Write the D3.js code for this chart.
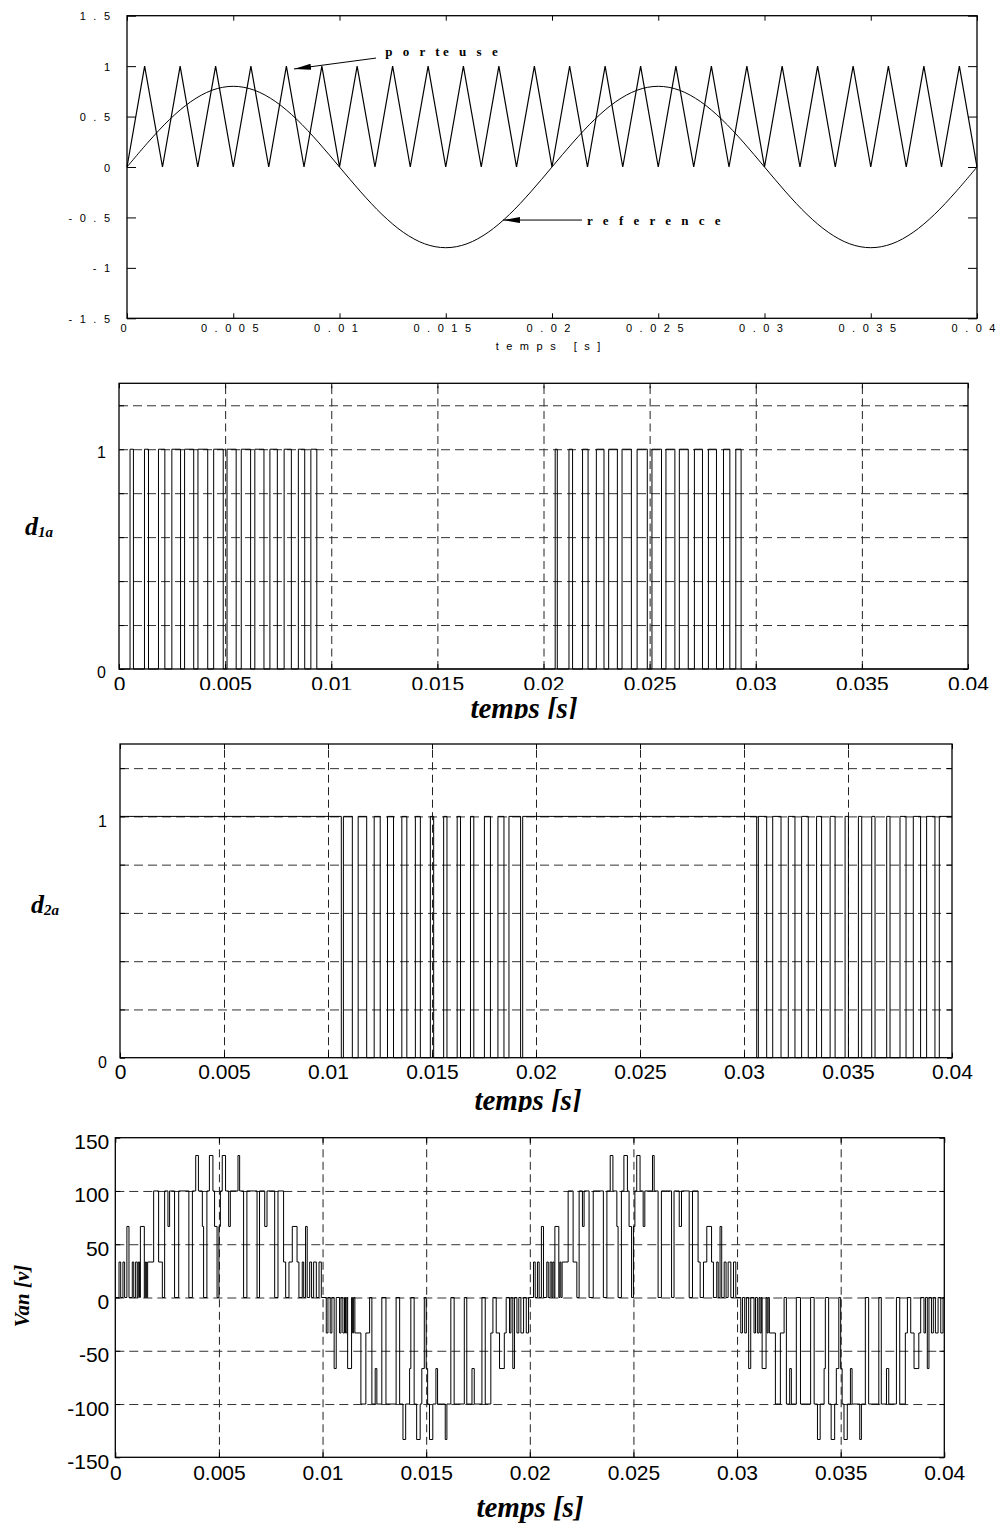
<!DOCTYPE html>
<html>
<head>
<meta charset="utf-8">
<script src="https://cdnjs.cloudflare.com/ajax/libs/d3/7.8.5/d3.min.js"></script>
<style>
  body { margin: 0; background: #fff; }
  svg { display: block; }
</style>
</head>
<body>
<svg width="998" height="1529"></svg>
<script>
const timeTicks = [0, 0.005, 0.01, 0.015, 0.02, 0.025, 0.03, 0.035, 0.04];
const timeLabels = ["0", "0.005", "0.01", "0.015", "0.02", "0.025", "0.03", "0.035", "0.04"];

const refYTicks = [-1.5, -1, -0.5, 0, 0.5, 1, 1.5];
const refYLabels = ["-1.5", "-1", "-0.5", "0", "0.5", "1", "1.5"];

const dYTicks = [0, 0.2, 0.4, 0.6, 0.8, 1, 1.2];
const dYLabels = ["0", "", "", "", "", "1", ""];

const vanYTicks = [-150, -100, -50, 0, 50, 100, 150];
const vanYLabels = ["-150", "-100", "-50", "0", "50", "100", "150"];

// triangular carrier (porteuse): vertices
const carrierT = [0, 0.00083, 0.00167, 0.0025, 0.00333, 0.00417, 0.005, 0.00583, 0.00667, 0.0075,
  0.00833, 0.00917, 0.01, 0.01083, 0.01167, 0.0125, 0.01333, 0.01417, 0.015, 0.01583,
  0.01667, 0.0175, 0.01833, 0.01917, 0.02, 0.02083, 0.02167, 0.0225, 0.02333, 0.02417,
  0.025, 0.02583, 0.02667, 0.0275, 0.02833, 0.02917, 0.03, 0.03083, 0.03167, 0.0325,
  0.03333, 0.03417, 0.035, 0.03583, 0.03667, 0.0375, 0.03833, 0.03917, 0.04];
const carrierV = [0, 1, 0, 1, 0, 1, 0, 1, 0, 1, 0, 1, 0, 1, 0, 1, 0, 1, 0, 1, 0, 1, 0, 1, 0,
  1, 0, 1, 0, 1, 0, 1, 0, 1, 0, 1, 0, 1, 0, 1, 0, 1, 0, 1, 0, 1, 0, 1, 0];

// sinusoidal reference, read every millisecond
const refT = [0, 0.001, 0.002, 0.003, 0.004, 0.005, 0.006, 0.007, 0.008, 0.009,
  0.01, 0.011, 0.012, 0.013, 0.014, 0.015, 0.016, 0.017, 0.018, 0.019,
  0.02, 0.021, 0.022, 0.023, 0.024, 0.025, 0.026, 0.027, 0.028, 0.029,
  0.03, 0.031, 0.032, 0.033, 0.034, 0.035, 0.036, 0.037, 0.038, 0.039, 0.04];
const refV = [0, 0.247, 0.47, 0.647, 0.761, 0.8, 0.761, 0.647, 0.47, 0.247,
  0, -0.247, -0.47, -0.647, -0.761, -0.8, -0.761, -0.647, -0.47, -0.247,
  0, 0.247, 0.47, 0.647, 0.761, 0.8, 0.761, 0.647, 0.47, 0.247,
  0, -0.247, -0.47, -0.647, -0.761, -0.8, -0.761, -0.647, -0.47, -0.247, 0];

// switching edges of d1a (starts at 0) and d2a (starts at 1)
const d1aStart = 0;
const d1aEdges = [0.00052, 0.00068, 0.0012, 0.00139, 0.00186, 0.00216, 0.00249, 0.0029,
  0.00309, 0.00352, 0.00372, 0.00418, 0.00446, 0.00491, 0.00509, 0.00552, 0.00576, 0.0062,
  0.0064, 0.00683, 0.00711, 0.00746, 0.00778, 0.00812, 0.00845, 0.00875, 0.00904, 0.00932,
  0.02055, 0.02065, 0.0212, 0.02137, 0.02184, 0.0221, 0.02249, 0.02285, 0.02307, 0.02348,
  0.0237, 0.02414, 0.02441, 0.02489, 0.02511, 0.02556, 0.02577, 0.02619, 0.0264, 0.02682,
  0.02711, 0.02749, 0.02777, 0.02815, 0.02848, 0.02878, 0.02906, 0.02931];

const d2aStart = 1;
const d2aEdges = [0.01064, 0.01074, 0.01117, 0.01145, 0.01186, 0.01222, 0.01251, 0.01286,
  0.01315, 0.01355, 0.01379, 0.0142, 0.01444, 0.01492, 0.01508, 0.01556, 0.01572, 0.01621,
  0.01637, 0.01685, 0.01701, 0.01752, 0.01781, 0.01817, 0.01846, 0.0187, 0.01926, 0.01936,
  0.03061, 0.03069, 0.03109, 0.03138, 0.03178, 0.03213, 0.03245, 0.03277, 0.03309, 0.03349,
  0.03373, 0.03414, 0.03438, 0.03486, 0.03502, 0.0355, 0.03566, 0.03614, 0.0363, 0.03686,
  0.03702, 0.0375, 0.03779, 0.03814, 0.03849, 0.03878, 0.03918, 0.03939];

// Van [v]: [time, level] steps, one list per half period
const vanHalf1 = [[0, 0], [0.00018, 33.3], [0.00026, 0], [0.00037, 33.3], [0.00045, 0],
  [0.00056, 66.7], [0.00066, 0], [0.00082, 33.3], [0.00089, 0], [0.00098, 33.3], [0.00106, 0],
  [0.00111, 33.3], [0.00117, 0], [0.00121, 66.7], [0.0014, 0], [0.00145, 33.3], [0.0015, 0],
  [0.00156, 33.3], [0.00185, 100], [0.00209, 33.3], [0.00227, 0], [0.00238, 100], [0.00254, 66.7],
  [0.00262, 100], [0.00286, 0], [0.00306, 100], [0.00355, 0], [0.00372, 100], [0.00388, 133.3],
  [0.00401, 100], [0.0042, 66.7], [0.00426, 0], [0.00442, 100], [0.00454, 133.3], [0.00471, 100],
  [0.00479, 66.7], [0.00491, 0], [0.005, 66.7], [0.00507, 100], [0.00516, 133.3], [0.00532, 100],
  [0.00547, 66.7], [0.00555, 100], [0.00592, 133.3], [0.006, 100], [0.00619, 0], [0.00635, 100],
  [0.00684, 0], [0.00696, 100], [0.00721, 66.7], [0.00732, 100], [0.00769, 0], [0.00785, 100],
  [0.00812, 33.3], [0.00822, 0], [0.00838, 33.3], [0.00854, 66.7], [0.00877, 33.3], [0.00886, 0],
  [0.00902, 33.3], [0.00909, 0], [0.00918, 66.7], [0.00926, 0], [0.00938, 33.3], [0.00947, 0],
  [0.00957, 33.3], [0.0097, 0], [0.00983, 33.3], [0.00994, 0]];

const vanHalf2 = [[0.01018, -33.3], [0.01026, 0], [0.01037, -33.3], [0.01045, 0],
  [0.01056, -66.7], [0.01066, 0], [0.01082, -33.3], [0.01089, 0], [0.01098, -33.3], [0.01106, 0],
  [0.01111, -33.3], [0.01117, 0], [0.01121, -66.7], [0.0114, 0], [0.01145, -33.3], [0.0115, 0],
  [0.01156, -33.3], [0.01185, -100], [0.01209, -33.3], [0.01227, 0], [0.01238, -100], [0.01254, -66.7],
  [0.01262, -100], [0.01286, 0], [0.01306, -100], [0.01355, 0], [0.01372, -100], [0.01388, -133.3],
  [0.01401, -100], [0.0142, -66.7], [0.01426, 0], [0.01442, -100], [0.01454, -133.3], [0.01471, -100],
  [0.01479, -66.7], [0.01491, 0], [0.015, -66.7], [0.01507, -100], [0.01516, -133.3], [0.01532, -100],
  [0.01547, -66.7], [0.01555, -100], [0.01592, -133.3], [0.016, -100], [0.01619, 0], [0.01635, -100],
  [0.01684, 0], [0.01696, -100], [0.01721, -66.7], [0.01732, -100], [0.01769, 0], [0.01785, -100],
  [0.01812, -33.3], [0.01822, 0], [0.01838, -33.3], [0.01854, -66.7], [0.01877, -33.3], [0.01886, 0],
  [0.01902, -33.3], [0.01909, 0], [0.01918, -66.7], [0.01926, 0], [0.01938, -33.3], [0.01947, 0],
  [0.01957, -33.3], [0.0197, 0], [0.01983, -33.3], [0.01994, 0]];

const vanHalf3 = [[0.02, 0], [0.02018, 33.3], [0.02026, 0], [0.02037, 33.3], [0.02045, 0],
  [0.02056, 66.7], [0.02066, 0], [0.02082, 33.3], [0.02089, 0], [0.02098, 33.3], [0.02106, 0],
  [0.02111, 33.3], [0.02117, 0], [0.02121, 66.7], [0.0214, 0], [0.02145, 33.3], [0.0215, 0],
  [0.02156, 33.3], [0.02185, 100], [0.02209, 33.3], [0.02227, 0], [0.02238, 100], [0.02254, 66.7],
  [0.02262, 100], [0.02286, 0], [0.02306, 100], [0.02355, 0], [0.02372, 100], [0.02388, 133.3],
  [0.02401, 100], [0.0242, 66.7], [0.02426, 0], [0.02442, 100], [0.02454, 133.3], [0.02471, 100],
  [0.02479, 66.7], [0.02491, 0], [0.025, 66.7], [0.02507, 100], [0.02516, 133.3], [0.02532, 100],
  [0.02547, 66.7], [0.02555, 100], [0.02592, 133.3], [0.026, 100], [0.02619, 0], [0.02635, 100],
  [0.02684, 0], [0.02696, 100], [0.02721, 66.7], [0.02732, 100], [0.02769, 0], [0.02785, 100],
  [0.02812, 33.3], [0.02822, 0], [0.02838, 33.3], [0.02854, 66.7], [0.02877, 33.3], [0.02886, 0],
  [0.02902, 33.3], [0.02909, 0], [0.02918, 66.7], [0.02926, 0], [0.02938, 33.3], [0.02947, 0],
  [0.02957, 33.3], [0.0297, 0], [0.02983, 33.3], [0.02994, 0]];

const vanHalf4 = [[0.03018, -33.3], [0.03026, 0], [0.03037, -33.3], [0.03045, 0],
  [0.03056, -66.7], [0.03066, 0], [0.03082, -33.3], [0.03089, 0], [0.03098, -33.3], [0.03106, 0],
  [0.03111, -33.3], [0.03117, 0], [0.03121, -66.7], [0.0314, 0], [0.03145, -33.3], [0.0315, 0],
  [0.03156, -33.3], [0.03185, -100], [0.03209, -33.3], [0.03227, 0], [0.03238, -100], [0.03254, -66.7],
  [0.03262, -100], [0.03286, 0], [0.03306, -100], [0.03355, 0], [0.03372, -100], [0.03388, -133.3],
  [0.03401, -100], [0.0342, -66.7], [0.03426, 0], [0.03442, -100], [0.03454, -133.3], [0.03471, -100],
  [0.03479, -66.7], [0.03491, 0], [0.035, -66.7], [0.03507, -100], [0.03516, -133.3], [0.03532, -100],
  [0.03547, -66.7], [0.03555, -100], [0.03592, -133.3], [0.036, -100], [0.03619, 0], [0.03635, -100],
  [0.03684, 0], [0.03696, -100], [0.03721, -66.7], [0.03732, -100], [0.03769, 0], [0.03785, -100],
  [0.03812, -33.3], [0.03822, 0], [0.03838, -33.3], [0.03854, -66.7], [0.03877, -33.3], [0.03886, 0],
  [0.03902, -33.3], [0.03909, 0], [0.03918, -66.7], [0.03926, 0], [0.03938, -33.3], [0.03947, 0],
  [0.03957, -33.3], [0.0397, 0], [0.03983, -33.3], [0.03994, 0], [0.04, 0]];

// annotations of the top plot, in data units [t, value]
const notes = [
  { text: "p o r te u s e", tip: [0.00786, 0.972], tail: [0.01172, 1.08], at: [0.01215, 1.1] },
  { text: "r e f e r e n c e", tip: [0.01769, -0.526], tail: [0.02141, -0.526], at: [0.02165, -0.575] },
];

const SANS = "'Liberation Sans', Arial, Helvetica, sans-serif";
const SERIF = "'Liberation Serif', 'Times New Roman', serif";

const svg = d3.select("svg");
const defs = svg.append("defs");

defs.append("marker")
  .attr("id", "arrow")
  .attr("viewBox", "0 0 17 6")
  .attr("refX", 17)
  .attr("refY", 3)
  .attr("markerWidth", 17)
  .attr("markerHeight", 6)
  .attr("markerUnits", "userSpaceOnUse")
  .attr("orient", "auto")
  .append("path")
  .attr("d", "M0,0L17,3L0,6Z")
  .attr("fill", "#000");

const addClip = (id, yMax) => {
  defs.append("clipPath").attr("id", id)
    .append("rect").attr("x", 0).attr("y", 0).attr("width", 998).attr("height", yMax);
  return `url(#${id})`;
};

// spread characters apart without a trailing gap
const spread = (sel, gap) => sel.attr("dx", function () {
  return Array.from(this.textContent, (c, i) => (i ? gap : 0)).join(" ");
});

const toSteps = (start, edges) => {
  const pts = [[0, start]];
  let level = start;
  edges.forEach((t) => {
    level = 1 - level;
    pts.push([t, level]);
  });
  pts.push([0.04, level]);
  return pts;
};

const drawGrid = (g, x, y, o) => {
  const [x0, x1] = x.range();
  const [y0, y1] = y.range();

  g.append("g")
    .attr("transform", `translate(0,${y0})`)
    .call(d3.axisBottom(x).tickValues(o.xTicks.slice(1, -1)).tickSize(-(y0 - y1)).tickFormat(""))
    .call((a) => a.select(".domain").remove())
    .selectAll("line")
    .attr("stroke", "#222")
    .attr("stroke-dasharray", "8,4.5");
  g.append("g")
    .attr("transform", `translate(${x0},0)`)
    .call(d3.axisLeft(y).tickValues(o.yGrid).tickSize(-(x1 - x0)).tickFormat(""))
    .call((a) => a.select(".domain").remove())
    .selectAll("line")
    .attr("stroke", "#333")
    .attr("stroke-dasharray", "9,5");
};

const drawFrame = (g, x, y, o) => {
  const [x0, x1] = x.range();
  const [y0, y1] = y.range();

  const bottomWrap = g.append("g");
  if (o.clip) bottomWrap.attr("clip-path", o.clip);
  const bottom = bottomWrap.append("g")
    .attr("transform", `translate(0,${y0})`)
    .call(d3.axisBottom(x).tickValues(o.xTicks).tickSizeInner(-o.xTickLen).tickSizeOuter(0)
      .tickFormat((d, i) => o.xLabels[i]));
  bottom.attr("font-family", SANS).attr("font-size", o.xFont);
  bottom.selectAll("text")
    .attr("x", o.xLabelX || 0)
    .attr("y", o.xLabelBase)
    .attr("dy", 0);

  const top = g.append("g")
    .attr("transform", `translate(0,${y1})`)
    .call(d3.axisTop(x).tickValues(o.xTicks).tickSizeInner(-o.xTickLen).tickSizeOuter(0).tickFormat(""));

  const left = g.append("g")
    .attr("transform", `translate(${x0},0)`)
    .call(d3.axisLeft(y).tickValues(o.yTicks).tickSizeInner(-o.yTickLen).tickSizeOuter(0)
      .tickFormat((d, i) => o.yLabels[i]));
  left.attr("font-family", SANS).attr("font-size", o.yFont);
  left.selectAll("text")
    .attr("x", o.yLabelX)
    .attr("dy", o.yLabelDy);

  if (o.spacing) {
    spread(bottom.selectAll("text"), o.spacing);
    spread(left.selectAll("text"), o.spacing);
  }

  const right = g.append("g")
    .attr("transform", `translate(${x1},0)`)
    .call(d3.axisRight(y).tickValues(o.yTicks).tickSizeInner(-o.yTickLen).tickSizeOuter(0).tickFormat(""));

  [bottom, top, left, right].forEach((a) => {
    a.select(".domain").remove();
    a.selectAll("line").attr("stroke", "#000").attr("stroke-width", 1);
  });

  g.append("rect")
    .attr("x", x0)
    .attr("y", y1)
    .attr("width", x1 - x0)
    .attr("height", y0 - y1)
    .attr("fill", "none")
    .attr("stroke", "#000")
    .attr("stroke-width", 1.3);
};

const drawTrace = (g, x, y, pts, curve, width = 1) => {
  g.append("path")
    .datum(pts)
    .attr("d", d3.line().x((d) => x(d[0])).y((d) => y(d[1])).curve(curve))
    .attr("fill", "none")
    .attr("stroke", "#000")
    .attr("stroke-width", width);
};

const timeTitle = (g, xPos, base, clip) => {
  const t = g.append("text")
    .attr("x", xPos)
    .attr("y", base)
    .attr("text-anchor", "middle")
    .attr("font-family", SERIF)
    .attr("font-weight", "bold")
    .attr("font-style", "italic")
    .attr("font-size", 29)
    .text("temps [s]");
  if (clip) t.attr("clip-path", clip);
};

const dLabel = (g, xPos, base, sub) => {
  const t = g.append("text")
    .attr("x", xPos)
    .attr("y", base)
    .attr("font-family", SERIF)
    .attr("font-weight", "bold")
    .attr("font-style", "italic")
    .attr("font-size", 26);
  t.append("tspan").text("d");
  t.append("tspan").attr("font-size", 15).attr("dy", 2).text(sub);
};

// ---------- panel 1 : carrier and reference ----------
{
  const g = svg.append("g");
  const x = d3.scaleLinear().domain([0, 0.04]).range([127, 977]);
  const y = d3.scaleLinear().domain([-1.5, 1.5]).range([318.3, 15.7]);

  drawTrace(g, x, y, carrierT.map((t, i) => [t, carrierV[i]]), d3.curveLinear, 1.2);
  drawTrace(g, x, y, refT.map((t, i) => [t, refV[i]]), d3.curveCardinal);

  drawFrame(g, x, y, {
    xTicks: timeTicks, xLabels: timeLabels, yTicks: refYTicks, yLabels: refYLabels,
    xTickLen: 5, yTickLen: 9, xFont: 11, yFont: 11, spacing: 7.5,
    xLabelX: -4, xLabelBase: 14, yLabelX: -17, yLabelDy: 4,
  });

  spread(g.append("text")
    .attr("x", x(0.02) - 4)
    .attr("y", 350)
    .attr("text-anchor", "middle")
    .attr("font-family", SANS)
    .attr("font-size", 11)
    .attr("xml:space", "preserve")
    .text("temps [s]"), 7.5);

  notes.forEach((n) => {
    g.append("line")
      .attr("x1", x(n.tail[0])).attr("y1", y(n.tail[1]))
      .attr("x2", x(n.tip[0])).attr("y2", y(n.tip[1]))
      .attr("stroke", "#000")
      .attr("stroke-width", 1)
      .attr("marker-end", "url(#arrow)");
    spread(g.append("text")
      .attr("x", x(n.at[0]))
      .attr("y", y(n.at[1]))
      .attr("font-family", SERIF)
      .attr("font-weight", "bold")
      .attr("font-size", 13)
      .attr("xml:space", "preserve")
      .text(n.text), 3.5);
  });
}

// ---------- panel 2 : d1a ----------
{
  const g = svg.append("g");
  const x = d3.scaleLinear().domain([0, 0.04]).range([119, 968]);
  const y = d3.scaleLinear().domain([0, 1.3]).range([669, 383.3]);

  drawGrid(g, x, y, { xTicks: timeTicks, yGrid: dYTicks.slice(1) });
  drawTrace(g, x, y, toSteps(d1aStart, d1aEdges), d3.curveStepAfter);
  drawFrame(g, x, y, {
    xTicks: timeTicks, xLabels: timeLabels, yTicks: dYTicks, yLabels: dYLabels,
    xTickLen: 5, yTickLen: 5, xFont: 21, yFont: 16,
    xLabelBase: 22, yLabelX: -13, yLabelDy: 8, clip: addClip("clip2", 690),
  });
  dLabel(g, 25, 535, "1a");
  timeTitle(g, 524, 718, addClip("clip2t", 719));
}

// ---------- panel 3 : d2a ----------
{
  const g = svg.append("g");
  const x = d3.scaleLinear().domain([0, 0.04]).range([120, 952]);
  const y = d3.scaleLinear().domain([0, 1.3]).range([1057.7, 744]);

  drawGrid(g, x, y, { xTicks: timeTicks, yGrid: dYTicks.slice(1) });
  drawTrace(g, x, y, toSteps(d2aStart, d2aEdges), d3.curveStepAfter);
  drawFrame(g, x, y, {
    xTicks: timeTicks, xLabels: timeLabels, yTicks: dYTicks, yLabels: dYLabels,
    xTickLen: 5, yTickLen: 5, xFont: 21, yFont: 16,
    xLabelBase: 21.5, yLabelX: -13, yLabelDy: 10, clip: addClip("clip3", 1080.5),
  });
  dLabel(g, 31, 913, "2a");
  timeTitle(g, 528, 1109.5, addClip("clip3t", 1112));
}

// ---------- panel 4 : Van ----------
{
  const g = svg.append("g");
  const x = d3.scaleLinear().domain([0, 0.04]).range([115.3, 944.3]);
  const y = d3.scaleLinear().domain([-150, 150]).range([1457.3, 1137.7]);

  drawGrid(g, x, y, { xTicks: timeTicks, yGrid: vanYTicks.slice(1, -1) });
  drawTrace(g, x, y, [...vanHalf1, ...vanHalf2, ...vanHalf3, ...vanHalf4], d3.curveStepAfter);
  drawFrame(g, x, y, {
    xTicks: timeTicks, xLabels: timeLabels, yTicks: vanYTicks, yLabels: vanYLabels,
    xTickLen: 5, yTickLen: 5, xFont: 21, yFont: 21,
    xLabelBase: 22.7, yLabelX: -6, yLabelDy: 11,
  });

  g.append("text")
    .attr("transform", "translate(29,1296) rotate(-90)")
    .attr("text-anchor", "middle")
    .attr("font-family", SERIF)
    .attr("font-weight", "bold")
    .attr("font-style", "italic")
    .attr("font-size", 21)
    .text("Van [v]");

  timeTitle(g, 530, 1517);
}
</script>
</body>
</html>
